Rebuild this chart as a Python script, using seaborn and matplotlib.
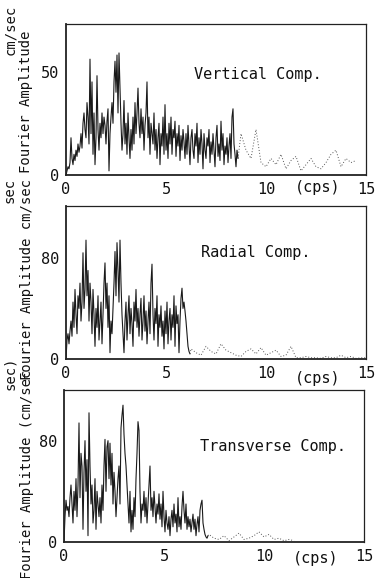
import numpy as np
import pandas as pd
import matplotlib
matplotlib.use("Agg")
import matplotlib.pyplot as plt
import seaborn as sns

# ---------------- data ----------------
step = 0.05  # frequency spacing of the main (solid) part, cps

vert_amp = [
    0, 2, 4, 3, 6, 18, 8, 5, 10, 7, 12, 9, 15, 11, 14, 20, 13, 25, 30, 22,
    18, 35, 28, 15, 56, 20, 45, 10, 30, 5, 18, 48, 22, 12, 25, 18, 30, 20, 28, 24,
    15, 26, 32, 2, 20, 28, 35, 25, 45, 55, 40, 58, 30, 59, 42, 25, 12, 20, 36, 15,
    25, 10, 30, 18, 8, 22, 12, 28, 15, 35, 20, 30, 42, 25, 18, 32, 20, 28, 12, 24,
    30, 45, 18, 28, 10, 25, 20, 15, 30, 12, 22, 8, 18, 25, 5, 20, 14, 28, 10, 34,
    12, 20, 8, 25, 15, 28, 10, 22, 18, 26, 9, 20, 14, 24, 7, 19, 12, 22, 16, 8,
    20, 10, 24, 15, 5, 18, 22, 12, 8, 20, 14, 25, 6, 18, 10, 22, 15, 3, 20, 12,
    8, 18, 14, 22, 6, 16, 10, 20, 12, 4, 18, 24, 9, 15, 7, 26, 12, 20, 5, 14,
    10, 18, 6, 14, 20, 8, 28, 32, 15, 10, 4, 12, 8,
]
vert_tail_f = [8.75, 9.0, 9.25, 9.5, 9.75, 10.0, 10.25, 10.5, 10.75, 11.0, 11.25, 11.5,
               11.75, 12.0, 12.25, 12.5, 12.75, 13.0, 13.25, 13.5, 13.75, 14.0, 14.25, 14.5]
vert_tail = [20, 12, 8, 22, 6, 4, 8, 5, 10, 3, 7, 9, 2, 5, 8, 4, 3, 6, 10, 12, 4, 8, 6, 7]

rad_amp = [
    0, 15, 20, 12, 22, 30, 18, 45, 25, 55, 35, 20, 50, 40, 60, 30, 45, 84, 40, 55,
    94, 50, 70, 30, 60, 45, 20, 55, 35, 10, 40, 25, 50, 15, 30, 45, 12, 35, 60, 76,
    40, 60, 25, 50, 5, 30, 20, 40, 60, 85, 50, 92, 70, 45, 94, 60, 35, 20, 5, 30,
    45, 15, 35, 50, 20, 40, 28, 10, 45, 30, 55, 25, 40, 18, 35, 48, 15, 30, 50, 22,
    38, 12, 30, 45, 20, 60, 75, 35, 15, 40, 28, 50, 10, 35, 25, 42, 18, 30, 8, 38,
    20, 45, 12, 30, 40, 15, 35, 25, 50, 10, 42, 28, 35, 5, 30, 48, 56, 40, 45, 38,
    30, 20, 10, 6, 4,
]
rad_tail_f = [6.25, 6.5, 6.75, 7.0, 7.25, 7.5, 7.75, 8.0, 8.25, 8.5, 8.75, 9.0,
              9.25, 9.5, 9.75, 10.0, 10.25, 10.5, 10.75, 11.0, 11.25, 11.5, 11.75, 12.0,
              12.25, 12.5, 12.75, 13.0, 13.25, 13.5, 13.75, 14.0, 14.25, 14.5, 14.75, 15.0]
rad_tail = [8, 5, 3, 10, 6, 4, 12, 7, 5, 3, 2, 6, 8, 4, 9, 3, 5, 7, 2, 3,
            10, 1, 1, 2, 1, 1, 0.5, 2, 1, 1, 3, 1, 2, 0.5, 1, 1]

trans_amp = [
    0, 20, 33, 25, 28, 20, 35, 45, 30, 15, 40, 25, 50, 20, 45, 94, 35, 70, 60, 10,
    55, 80, 40, 65, 5, 102, 60, 30, 45, 15, 25, 50, 10, 40, 30, 20, 35, 15, 45, 25,
    60, 81, 40, 75, 80, 50, 78, 45, 70, 30, 55, 40, 20, 35, 50, 60, 30, 90, 100, 108,
    85, 70, 60, 45, 30, 15, 40, 8, 25, 10, 35, 20, 50, 70, 95, 88, 40, 15, 30, 25,
    40, 20, 35, 15, 30, 45, 60, 25, 35, 20, 40, 28, 15, 30, 22, 38, 18, 30, 12, 40,
    20, 8, 25, 15, 10, 20, 5, 18, 25, 12, 30, 15, 22, 8, 35, 12, 20, 10, 28, 40,
    25, 15, 30, 10, 20, 12, 18, 8, 15, 22, 10, 18, 5, 14, 20, 8, 25, 30, 33, 15,
    10, 6, 4, 3, 5,
]
trans_tail_f = [7.25, 7.5, 7.75, 8.0, 8.25, 8.5, 8.75, 9.0, 9.25, 9.5, 9.75, 10.0,
                10.25, 10.5, 10.75, 11.0, 11.25, 11.5]
trans_tail = [6, 3, 2, 5, 1, 4, 7, 2, 3, 5, 8, 4, 6, 2, 3, 1, 2, 1]

panel_titles = ["Vertical Comp.", "Radial Comp.", "Transverse Comp."]
y_ticks = [[0, 50], [0, 80], [0, 80]]
y_tops = [73, 121, 120]
x_ticks = [0, 5, 10, 15]
x_ticklabels = ["0", "5", "10", "15"]

# ---------------- figure ----------------
sns.set_theme(style="white")
mono = ["DejaVu Sans Mono"]
plt.rcParams["font.family"] = mono

W, H = 382, 578
fig = plt.figure(figsize=(W / 100, H / 100), dpi=100)

# axes boxes in pixels: left, right, top, bottom
boxes = [(66, 366, 24, 175), (66, 366, 206, 359), (64, 364, 390, 542)]
title_pos = [(6.4, 48.5), (6.75, 84), (6.8, 75)]
cps_y = [-0.035, -0.08, -0.06]

series = [
    (vert_amp, vert_tail_f, vert_tail),
    (rad_amp, rad_tail_f, rad_tail),
    (trans_amp, trans_tail_f, trans_tail),
]

line_col = "#1a1a1a"
for i, (box, (amp, tf, tv)) in enumerate(zip(boxes, series)):
    l, r, t, b = box
    ax = fig.add_axes([l / W, 1 - b / H, (r - l) / W, (b - t) / H])
    freq = np.arange(len(amp)) * step
    df = pd.DataFrame({"f": freq, "a": amp})
    sns.lineplot(data=df, x="f", y="a", ax=ax, color=line_col, linewidth=0.8,
                 estimator=None, sort=False)
    dft = pd.DataFrame({"f": [freq[-1]] + tf, "a": [amp[-1]] + tv})
    sns.lineplot(data=dft, x="f", y="a", ax=ax, color="#555555", linewidth=0.7,
                 linestyle=(0, (1, 2)), estimator=None, sort=False)
    ax.set_xlim(0, 15)
    ax.set_ylim(0, y_tops[i])
    ax.set_xlabel("")
    ax.set_ylabel("")
    ax.set_xticks(x_ticks)
    ax.set_xticklabels(x_ticklabels)
    ax.set_yticks(y_ticks[i])
    ax.tick_params(axis="both", direction="out", length=4, width=1, colors="#111111",
                   labelsize=11, pad=1)
    for sp in ax.spines.values():
        sp.set_color("#222222")
        sp.set_linewidth(0.9)
    ax.spines["bottom"].set_linewidth(1.3)
    ax.spines["left"].set_linewidth(1.3)
    ax.text(title_pos[i][0], title_pos[i][1], panel_titles[i], fontsize=11,
            color="#111111", va="center", ha="left")
    ax.text(0.84, cps_y[i], "(cps)", transform=ax.transAxes,
            fontsize=11, color="#111111", ha="center", va="top")

# y-axis labels (typewritten, rotated)
def vtext(px, py, s):
    fig.text(px / W, 1 - py / H, s, rotation=90, fontsize=10, color="#111111",
             ha="center", va="center")

vtext(26, 102, "Fourier Amplitude")
vtext(10, 30, "cm/sec")
vtext(10, 190, "sec")
vtext(27, 279, "Fourier Amplitude cm/sec")
vtext(10, 373, "sec)")
vtext(27, 474, "Fourier Amplitude (cm/sec")

fig.savefig("out.png", dpi=100)
